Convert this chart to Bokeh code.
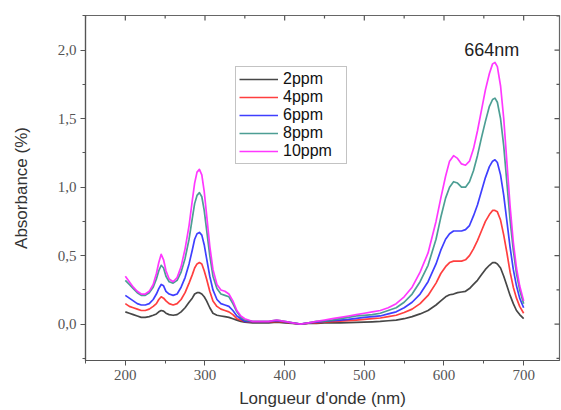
from math import pi

from bokeh.plotting import figure
from bokeh.models import (Range1d, FixedTicker, CustomJSTickFormatter,
                          Legend, LegendItem, Label, ColumnDataSource)
from bokeh.embed import file_html
from bokeh.resources import INLINE

# Wavelength grid (nm)
wavelength = [200, 205, 210, 215, 220, 225, 230, 235, 239, 242, 245, 248, 251, 255, 260, 265, 270, 275,
              280, 284, 287, 290, 293, 296, 299, 302, 306, 310, 315, 320, 325, 330, 335, 340, 345, 350,
              360, 370, 380, 390, 400, 410, 420, 430, 440, 450, 460, 470, 480, 490, 500, 510, 520, 530,
              540, 550, 560, 570, 580,
              590, 596, 602, 607, 612, 617, 622, 627, 632, 637, 642, 647, 652, 657, 661, 664, 667, 671,
              675, 679, 683, 687, 691, 695, 700]

# Absorbance for each methylene blue concentration
abs_2ppm = [0.09, 0.08, 0.07, 0.06, 0.05, 0.05, 0.055, 0.065, 0.075, 0.09, 0.10, 0.095, 0.08, 0.07, 0.065, 0.07, 0.09, 0.12,
            0.16, 0.19, 0.22, 0.23, 0.23, 0.22, 0.20, 0.17, 0.12, 0.08, 0.065, 0.06, 0.055, 0.05, 0.04, 0.03, 0.02, 0.015,
            0.01, 0.01, 0.01, 0.015, 0.01, 0.005, 0.0, 0.005, 0.005, 0.01, 0.01, 0.01, 0.012, 0.013, 0.015, 0.017, 0.02, 0.025,
            0.03, 0.04, 0.055, 0.075, 0.10,
            0.14, 0.17, 0.20, 0.215, 0.22, 0.23, 0.235, 0.24, 0.26, 0.29, 0.32, 0.36, 0.40, 0.43, 0.45, 0.45, 0.44, 0.41,
            0.35, 0.28, 0.21, 0.15, 0.10, 0.07, 0.04]

abs_4ppm = [0.15, 0.13, 0.12, 0.11, 0.10, 0.10, 0.11, 0.13, 0.15, 0.18, 0.20, 0.19, 0.17, 0.15, 0.14, 0.15, 0.18, 0.23,
            0.30, 0.36, 0.41, 0.44, 0.45, 0.44, 0.39, 0.33, 0.24, 0.17, 0.13, 0.11, 0.10, 0.09, 0.07, 0.04, 0.03, 0.02,
            0.015, 0.015, 0.015, 0.02, 0.015, 0.008, 0.0, 0.008, 0.01, 0.015, 0.018, 0.022, 0.026, 0.03, 0.035, 0.04, 0.045, 0.055,
            0.065, 0.085, 0.11, 0.15, 0.21,
            0.30, 0.37, 0.42, 0.45, 0.46, 0.46, 0.46, 0.47, 0.50, 0.55, 0.61, 0.68, 0.75, 0.80, 0.83, 0.83, 0.82, 0.76,
            0.65, 0.52, 0.38, 0.27, 0.19, 0.13, 0.08]

abs_6ppm = [0.21, 0.19, 0.17, 0.15, 0.14, 0.14, 0.15, 0.18, 0.22, 0.26, 0.29, 0.28, 0.24, 0.22, 0.21, 0.22, 0.27, 0.34,
            0.44, 0.54, 0.62, 0.66, 0.67, 0.65, 0.58, 0.48, 0.35, 0.25, 0.18, 0.15, 0.14, 0.13, 0.10, 0.06, 0.04, 0.02,
            0.018, 0.018, 0.018, 0.025, 0.018, 0.01, 0.0, 0.01, 0.015, 0.02, 0.025, 0.03, 0.035, 0.042, 0.05, 0.055, 0.06, 0.075,
            0.09, 0.12, 0.16, 0.22, 0.31,
            0.44, 0.54, 0.62, 0.66, 0.68, 0.68, 0.68, 0.69, 0.72, 0.79, 0.87, 0.97, 1.07, 1.15, 1.19, 1.20, 1.18, 1.09,
            0.94, 0.75, 0.56, 0.40, 0.28, 0.19, 0.12]

abs_8ppm = [0.32, 0.29, 0.26, 0.23, 0.21, 0.21, 0.23, 0.27, 0.33, 0.39, 0.43, 0.41, 0.35, 0.31, 0.30, 0.32, 0.38, 0.48,
            0.62, 0.77, 0.88, 0.94, 0.96, 0.93, 0.83, 0.69, 0.50, 0.35, 0.26, 0.22, 0.21, 0.20, 0.15, 0.09, 0.05, 0.03,
            0.02, 0.02, 0.02, 0.03, 0.02, 0.01, 0.0, 0.01, 0.02, 0.02, 0.03, 0.04, 0.05, 0.06, 0.065, 0.07, 0.08, 0.10,
            0.12, 0.16, 0.22, 0.31, 0.43,
            0.62, 0.78, 0.92, 1.00, 1.04, 1.03, 1.00, 1.00, 1.04, 1.12, 1.23, 1.36, 1.48, 1.59, 1.64, 1.65, 1.62, 1.50,
            1.30, 1.03, 0.76, 0.54, 0.37, 0.25, 0.15]

abs_10ppm = [0.35, 0.31, 0.27, 0.24, 0.22, 0.22, 0.24, 0.29, 0.37, 0.45, 0.51, 0.47, 0.39, 0.33, 0.31, 0.34, 0.42, 0.55,
             0.72, 0.90, 1.03, 1.11, 1.13, 1.09, 0.97, 0.80, 0.57, 0.40, 0.29, 0.25, 0.24, 0.22, 0.17, 0.10, 0.06, 0.04,
             0.02, 0.02, 0.02, 0.03, 0.02, 0.01, 0.0, 0.01, 0.02, 0.03, 0.04, 0.05, 0.06, 0.07, 0.08, 0.09, 0.10, 0.12,
             0.15, 0.20, 0.27, 0.38, 0.52,
             0.75, 0.92, 1.08, 1.19, 1.23, 1.21, 1.17, 1.16, 1.19, 1.28, 1.41, 1.56, 1.71, 1.83, 1.90, 1.91, 1.88, 1.74,
             1.50, 1.18, 0.86, 0.60, 0.41, 0.28, 0.17]

series_names = ["2ppm", "4ppm", "6ppm", "8ppm", "10ppm"]
series_colors = ["#333333", "#ff2a2a", "#2a2aff", "#3a9488", "#ff22ff"]
series_values = [abs_2ppm, abs_4ppm, abs_6ppm, abs_8ppm, abs_10ppm]

x_major = [200, 300, 400, 500, 600, 700]
x_minor = [150, 250, 350, 450, 550, 650]
y_major = [0.0, 0.5, 1.0, 1.5, 2.0]
y_minor = [-0.25, 0.25, 0.75, 1.25, 1.75, 2.25]

x_lo, x_hi = 150, 745
y_lo, y_hi = -0.265, 2.253

p = figure(width=561, height=410, output_backend="svg", toolbar_location=None,
           x_range=Range1d(x_lo, x_hi), y_range=Range1d(y_lo, y_hi),
           min_border_left=85, min_border_right=2, min_border_top=15, min_border_bottom=47,
           background_fill_color="white", border_fill_color="white")
p.grid.visible = False
p.outline_line_color = "#666666"
p.outline_line_width = 1.2

tick_font = "Liberation Serif"
title_font = "Liberation Sans"
axis_color = "#555555"

# bottom axis
xa = p.xaxis[0]
xa.ticker = FixedTicker(ticks=x_major, minor_ticks=x_minor)
xa.axis_label = "Longueur d'onde (nm)"
xa.axis_label_text_font = title_font
xa.axis_label_text_font_style = "normal"
xa.axis_label_text_font_size = "17px"
xa.axis_label_text_color = "#333333"
xa.axis_label_standoff = 6
xa.major_label_text_font = tick_font
xa.major_label_text_font_size = "15px"
xa.major_label_text_color = "#555555"
xa.major_label_standoff = 4
xa.axis_line_color = axis_color
xa.axis_line_width = 1.2
xa.major_tick_line_color = axis_color
xa.minor_tick_line_color = axis_color
xa.major_tick_in = 0
xa.major_tick_out = 5
xa.minor_tick_in = 0
xa.minor_tick_out = 3

# left axis
ya = p.yaxis[0]
ya.ticker = FixedTicker(ticks=y_major, minor_ticks=y_minor)
ya.formatter = CustomJSTickFormatter(code="return tick.toFixed(1).replace('.', ',');")
ya.axis_label = "Absorbance (%)"
ya.axis_label_text_font = title_font
ya.axis_label_text_font_style = "normal"
ya.axis_label_text_font_size = "17px"
ya.axis_label_text_color = "#333333"
ya.axis_label_standoff = 24
ya.major_label_text_font = tick_font
ya.major_label_text_font_size = "15px"
ya.major_label_text_color = "#555555"
ya.major_label_standoff = 4
ya.axis_line_color = axis_color
ya.axis_line_width = 1.2
ya.major_tick_line_color = axis_color
ya.minor_tick_line_color = axis_color
ya.major_tick_in = 0
ya.major_tick_out = 5
ya.minor_tick_in = 0
ya.minor_tick_out = 3

# mirrored inward ticks on the top and right edges of the frame (clipped to the frame)
p.scatter(x=x_major, y=[y_hi] * len(x_major), marker="dash", angle=pi / 2, size=10,
          line_color=axis_color, line_width=1.2)
p.scatter(x=x_minor, y=[y_hi] * len(x_minor), marker="dash", angle=pi / 2, size=6,
          line_color=axis_color, line_width=1.2)
p.scatter(x=[x_hi] * len(y_major), y=y_major, marker="dash", size=10,
          line_color=axis_color, line_width=1.2)
p.scatter(x=[x_hi] * len(y_minor), y=y_minor, marker="dash", size=6,
          line_color=axis_color, line_width=1.2)

items = []
for name, color, vals in zip(series_names, series_colors, series_values):
    src = ColumnDataSource(data=dict(x=wavelength, y=vals))
    r = p.line("x", "y", source=src, line_color=color, line_width=1.7, line_alpha=0.9,
               line_join="round")
    items.append(LegendItem(label=name, renderers=[r]))

legend = Legend(items=items, location=(150, 196), orientation="vertical",
                label_text_font=title_font, label_text_font_size="16px",
                label_text_color="#111111", label_height=18, label_width=60, label_standoff=5,
                glyph_width=39, glyph_height=18, spacing=0, padding=3, margin=0,
                border_line_color="#888888", border_line_width=1,
                background_fill_color="white", background_fill_alpha=1.0)
p.add_layout(legend)

peak_label = Label(x=660, y=2.0, text="664nm", text_align="center", text_baseline="middle",
                   text_font=title_font, text_font_size="18px", text_color="#222222")
p.add_layout(peak_label)

open("out.html", "w").write(file_html(p, INLINE))
